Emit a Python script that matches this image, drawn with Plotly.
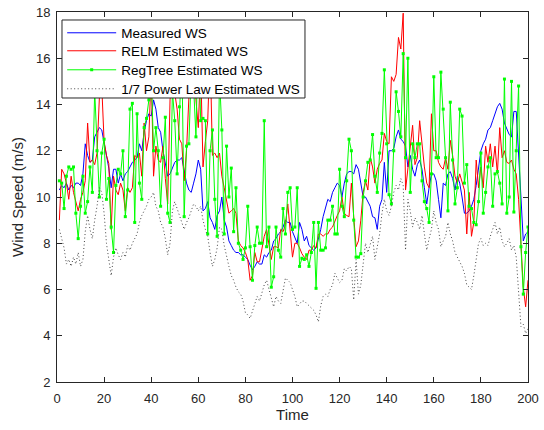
import plotly.graph_objects as go

time = list(range(1, 201))

measured_ws = [
    10.3, 10.5, 10.4, 10.6, 10.3, 10.5, 10.4, 10.6, 10.6, 10.5,
    11.0, 12.3, 11.8, 11.5, 11.6, 12.6, 12.8, 13.0, 12.9, 12.4,
    11.8, 11.25, 10.4, 11.2, 11.2, 10.6, 11.0, 10.7, 11.0, 11.1,
    11.3, 11.5, 11.6, 11.7, 12.3, 12.0, 12.8, 13.3, 13.6, 13.5,
    14.2, 13.8, 13.0, 12.8, 12.0, 11.5, 10.9, 11.0, 11.3, 11.5,
    11.6, 11.6, 11.7, 11.2, 10.6, 10.3, 10.2, 10.6, 11.0, 11.6,
    11.2, 9.4, 9.5, 9.8, 9.1, 8.9, 8.6, 9.2, 9.4, 10.0,
    9.0, 8.7, 8.1, 7.9, 7.7, 7.6, 7.6, 7.5, 7.5, 7.4,
    7.3, 7.05, 6.85, 7.0, 7.2, 7.1, 7.1, 7.5, 7.4, 7.6,
    7.7, 8.1, 8.2, 8.4, 8.5, 8.7, 9.0, 8.9, 8.9, 8.5,
    8.2, 8.0, 8.9, 8.6, 8.1, 8.3, 7.9, 7.8, 7.7, 7.8,
    8.2, 8.6, 9.15, 9.5, 9.9, 9.8, 10.2, 10.4, 10.6, 10.5,
    10.0, 10.6, 11.0, 11.1, 11.1, 11.0, 11.4, 11.2, 10.6, 10.0,
    10.0, 9.8, 9.6, 9.15, 9.1, 8.6, 9.6, 9.9, 11.5, 10.2,
    12.0, 12.0, 12.1, 12.6, 12.9, 12.5, 12.4, 12.2, 11.3, 11.8,
    11.2, 10.9, 11.4, 11.6, 11.2, 10.4, 9.7, 10.4, 11.0, 11.0,
    10.7, 9.9, 9.1, 10.6, 10.5, 11.0, 11.1, 10.8, 10.3, 10.9,
    10.6, 10.0, 9.3, 9.3, 9.4, 9.6, 9.9, 10.5, 11.3, 12.0,
    12.3, 12.5, 12.9, 13.0, 13.3, 13.6, 13.9, 14.05, 13.8, 13.2,
    12.9, 12.7, 12.6, 13.7, 13.7, 11.6, 10.0, 8.1, 8.4, 8.5,
]

relm_ws = [
    9.0, 11.2, 11.0, 10.6, 9.9, 10.9, 10.2, 9.8, 9.4, 9.9,
    10.2, 10.7, 13.2, 11.5, 11.6, 11.4, 11.9, 14.3, 14.8, 12.4,
    11.8, 11.45, 8.6, 10.9, 10.3, 10.1, 10.6, 10.3, 9.4, 10.4,
    10.2, 10.4, 11.8, 11.7, 11.9, 10.9, 13.2, 12.0, 12.6, 15.4,
    10.9, 12.2, 11.6, 11.5, 12.2, 10.8, 9.7, 14.2, 15.5, 14.5,
    13.8, 12.5, 12.3, 10.7, 12.0, 14.3, 15.3, 16.6, 14.2, 13.0,
    15.8, 11.3, 12.4, 13.3, 16.4, 11.8, 11.9, 11.7, 11.9, 10.9,
    10.4, 9.8, 9.3, 9.4, 9.5, 9.3, 8.1, 7.9, 7.8, 7.6,
    7.3, 6.4, 6.6, 7.6, 7.2, 7.2, 7.85, 8.3, 8.6, 7.9,
    7.3, 7.85, 7.85, 7.8, 8.6, 8.5, 8.8, 9.7, 8.7, 7.4,
    8.0, 8.0, 7.8, 7.55, 7.4, 7.3, 7.7, 7.7, 7.9, 7.8,
    8.4, 8.4, 8.3, 8.4, 8.4, 8.6, 8.7, 9.0, 9.2, 9.4,
    10.0, 9.3, 9.2, 9.15, 10.6, 9.15, 7.85, 8.1, 9.0, 10.2,
    10.7, 10.3, 11.7, 11.3, 10.6, 11.2, 11.45, 11.6, 12.75, 12.4,
    12.3, 15.2, 15.0, 15.3, 16.9, 16.4, 17.95, 10.3, 11.3, 12.3,
    13.1, 11.4, 11.7, 13.3, 12.2, 11.3, 10.6, 10.4, 13.6, 12.0,
    12.0, 11.5, 11.3, 11.2, 11.7, 11.2, 12.45, 11.8, 10.9, 10.6,
    11.0, 10.7, 10.3, 8.4, 10.2, 8.3, 8.9, 11.6, 10.4, 11.3,
    10.4, 12.2, 11.5, 12.3, 11.3, 12.2, 11.0, 13.0, 11.7, 12.0,
    11.5, 11.45, 11.6, 11.2, 11.0, 9.9, 7.85, 6.1, 5.25, 6.4,
]

regtree_ws = [
    10.7, 10.6, 9.5, 10.9, 11.3, 11.2, 11.3, 9.3, 8.2, 9.6,
    10.9, 9.3, 9.8, 11.3, 10.2, 14.6, 12.0, 10.0, 11.9, 12.5,
    9.9, 10.8, 8.7, 7.6, 10.5, 11.2, 11.0, 12.0, 9.15, 10.3,
    13.8, 14.05, 8.9, 13.6, 10.6, 9.9, 13.0, 13.4, 14.2, 15.5,
    12.0, 13.0, 12.0, 9.6, 11.7, 13.45, 9.3, 8.9, 14.6, 13.3,
    11.0, 13.9, 16.1, 9.15, 12.2, 12.3, 15.4, 14.8, 12.6, 17.2,
    13.3, 13.4, 13.3, 8.4, 12.0, 12.9, 9.9, 8.3, 15.2, 12.9,
    8.4, 12.2, 10.0, 11.25, 8.5, 10.4, 8.0, 7.7, 7.3, 7.8,
    9.6, 7.85, 6.4, 7.9, 8.7, 8.0, 8.0, 13.3, 7.85, 8.7,
    6.1, 6.55, 8.7, 7.7, 7.4, 9.5, 8.4, 10.2, 10.4, 8.6,
    8.7, 10.4, 7.0, 7.35, 7.3, 7.5, 7.0, 7.6, 8.9, 6.05,
    8.9, 7.7, 7.7, 7.8, 9.0, 9.0, 9.6, 8.4, 8.4, 11.2,
    9.6, 9.15, 10.7, 12.5, 12.0, 9.0, 7.4, 7.4, 7.55, 10.0,
    10.7, 11.5, 11.6, 12.7, 10.9, 10.2, 11.9, 12.75, 15.5, 12.3,
    10.1, 9.7, 12.0, 14.55, 13.7, 12.6, 16.2, 11.7, 16.0, 10.2,
    12.3, 11.7, 12.3, 12.3, 10.7, 9.8, 9.5, 8.9, 11.0, 15.2,
    11.7, 11.7, 15.4, 13.8, 11.7, 9.4, 14.1, 11.6, 9.7, 10.4,
    13.8, 13.5, 10.6, 11.4, 9.6, 9.5, 8.9, 8.8, 9.8, 11.9,
    9.3, 10.2, 11.3, 11.7, 9.6, 11.0, 11.1, 10.6, 9.7, 15.1,
    9.3, 10.0, 15.0, 9.35, 12.0, 14.8, 7.85, 5.8, 7.6, 8.7,
]

power_law_ws = [
    8.6, 8.2, 7.8, 7.1, 7.3, 7.0, 7.4, 7.1, 7.6, 7.0,
    7.3, 8.5, 9.2, 8.6, 8.2, 9.0, 9.6, 10.4, 10.2, 9.3,
    8.0, 7.3, 6.6, 7.4, 7.8, 7.5, 7.3, 7.6, 7.4, 7.9,
    7.7, 8.0, 8.2, 8.4, 8.9, 9.2, 9.4, 9.6, 9.9, 10.0,
    10.2, 9.6, 9.4, 8.9, 8.7, 8.2, 7.5, 8.0, 9.4, 9.8,
    9.5, 9.2, 8.8, 8.6, 8.9, 9.1, 9.4, 9.7, 9.6, 9.4,
    9.6, 9.0, 8.6, 8.3, 7.6, 7.0, 7.3, 7.8, 8.7, 8.6,
    7.9, 7.4, 7.0, 6.6, 6.4, 6.1, 5.9, 5.8, 5.5, 5.0,
    4.9, 4.75, 5.1, 5.4, 5.7, 5.5, 5.9, 6.2, 6.4, 6.0,
    5.6, 5.25, 5.7, 5.5, 5.4, 6.0, 6.5, 6.4, 6.3, 6.0,
    5.7, 5.25, 5.4, 5.5, 5.5, 5.4, 5.3, 5.2, 5.1, 4.9,
    4.6, 5.3, 5.7, 5.8, 5.7, 6.0, 6.2, 6.7, 6.5, 6.3,
    6.4, 6.9, 6.8, 7.0, 6.9, 5.55, 7.3, 5.8, 6.2, 7.2,
    8.0, 7.6, 7.9, 8.3, 7.3, 7.8, 8.4, 9.3, 9.9, 9.4,
    9.2, 9.6, 10.2, 10.5, 10.3, 10.8, 10.5, 7.7, 9.9, 9.4,
    8.7, 9.1, 8.9, 8.6, 9.2, 8.4, 7.7, 8.2, 8.6, 9.4,
    8.9, 8.6, 7.85, 8.1, 8.3, 8.9, 8.4, 8.1, 7.6, 7.4,
    7.2, 7.0, 6.7, 6.2, 6.1, 6.0, 6.6, 7.4, 8.0, 8.2,
    7.9, 8.0, 7.9, 8.3, 8.6, 8.9, 8.4, 8.7, 8.1, 7.85,
    8.0, 8.2, 7.7, 7.9, 7.4, 6.0, 4.4, 4.5, 4.1, 4.3,
]

x_ticks = [0, 20, 40, 60, 80, 100, 120, 140, 160, 180, 200]
y_ticks = [2, 4, 6, 8, 10, 12, 14, 16, 18]

FONT = "Liberation Sans, Arial, Helvetica, sans-serif"
AX = "#262626"

fig = go.Figure()
fig.add_trace(go.Scatter(x=time, y=measured_ws, mode="lines", name="Measured WS",
                         line=dict(color="#0000ff", width=1), legend="legend"))
fig.add_trace(go.Scatter(x=time, y=relm_ws, mode="lines", name="RELM Estimated WS",
                         line=dict(color="#ff0000", width=1), legend="legend2"))
fig.add_trace(go.Scatter(x=time, y=regtree_ws, mode="lines+markers", name="RegTree Estimated WS",
                         line=dict(color="#00ff00", width=1),
                         marker=dict(symbol="square", size=3, color="#00ff00"), legend="legend3"))
fig.add_trace(go.Scatter(x=time, y=power_law_ws, mode="lines", name="1/7 Power Law Estimated WS",
                         line=dict(color="#444444", width=1, dash="1px,2.5px"), legend="legend4"))

axis_common = dict(
    showline=True, linecolor=AX, linewidth=1, mirror="ticks",
    ticks="inside", ticklen=5, tickcolor=AX, tickwidth=1,
    showgrid=False, zeroline=False, automargin=False,
    tickfont=dict(family=FONT, size=13, color=AX),
)

# legend frame drawn as a white box over the data (as in the reference)
fig.add_shape(type="rect", xref="paper", yref="paper",
              x0=0.0106, x1=0.5265, y0=0.7676, y1=0.9784,
              fillcolor="white", line=dict(color=AX, width=1), layer="above")


def legend_entry(ypos):
    return dict(
        x=0.011, y=ypos, xanchor="left", yanchor="middle",
        bgcolor="rgba(0,0,0,0)", borderwidth=0,
        font=dict(family=FONT, size=13.5, color="black"),
        itemwidth=49, tracegroupgap=0,
    )


fig.update_layout(
    width=544, height=430,
    margin=dict(l=57, r=16, t=12, b=48),
    paper_bgcolor="white", plot_bgcolor="white",
    font=dict(family=FONT, color=AX),
    showlegend=True,
    legend=legend_entry(0.9432),
    legend2=legend_entry(0.8946),
    legend3=legend_entry(0.8432),
    legend4=legend_entry(0.7919),
    xaxis=dict(range=[0, 200], tickvals=x_ticks,
               title=dict(text="Time", font=dict(family=FONT, size=15, color=AX), standoff=2),
               ticklabelstandoff=4,
               **axis_common),
    yaxis=dict(range=[2, 18], tickvals=y_ticks,
               title=dict(text="Wind Speed (m/s)", font=dict(family=FONT, size=15, color=AX), standoff=8),
               ticklabelstandoff=3,
               **axis_common),
)

fig.write_html("out.html", config={"displayModeBar": False},
               post_script="document.body.style.margin='0';document.body.style.overflow='hidden';")
